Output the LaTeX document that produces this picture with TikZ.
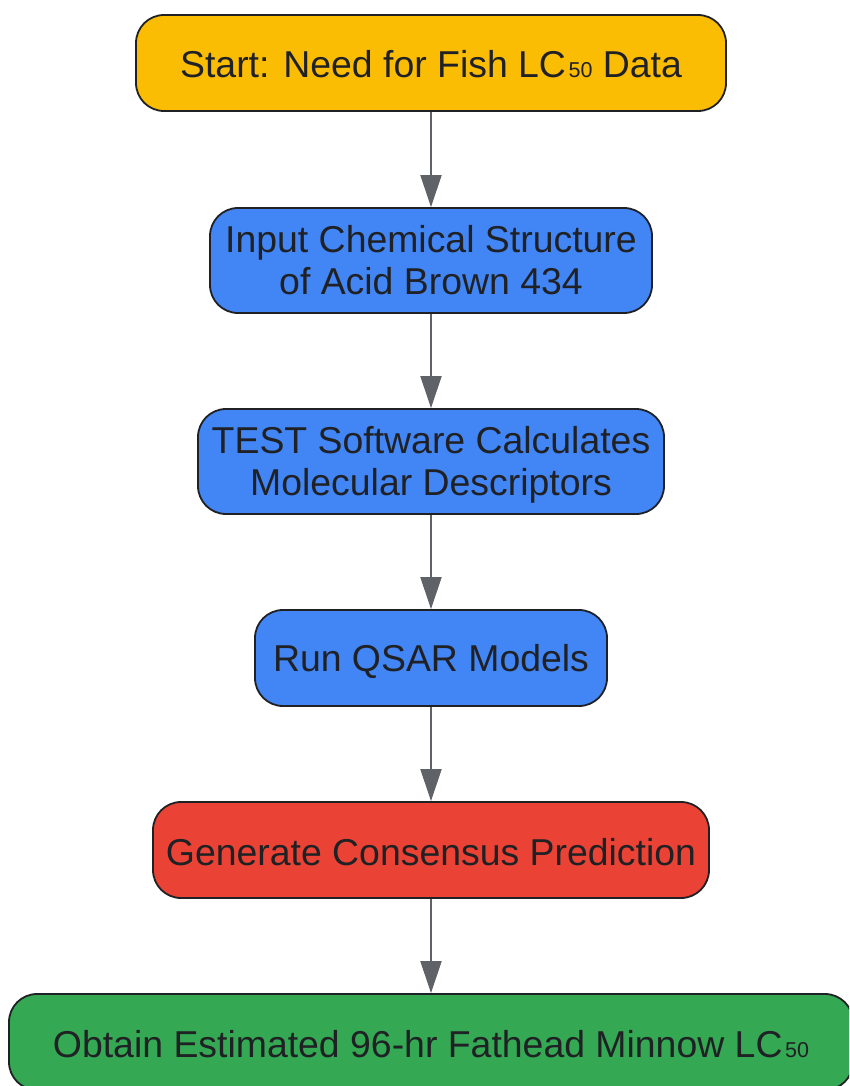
\documentclass[tikz,border=0pt]{standalone}
\usepackage{fontspec}
\setmainfont{Liberation Sans}
\usetikzlibrary{arrows.meta}
\definecolor{ylw}{HTML}{FBBC04}
\definecolor{blu}{HTML}{4285F4}
\definecolor{rd}{HTML}{EA4335}
\definecolor{grn}{HTML}{34A853}
\definecolor{edge}{HTML}{202124}
\definecolor{txt}{HTML}{202124}
\definecolor{arrowc}{HTML}{5F6368}
\newcommand{\subfifty}{\kern2.5pt{\fontsize{21.5}{21.5}\selectfont 50}}
\tikzset{
  box/.style={draw=edge, line width=1.8pt, rounded corners=28pt, inner sep=0pt},
  lbl/.style={align=center, text=txt, font=\fontsize{37.4}{42}\selectfont, inner sep=0pt}
}
\tikzset{
  arr/.style={-{Triangle[length=32pt,width=21pt]}, draw=arrowc, line width=2pt}
}
\begin{document}
\begin{tikzpicture}[x=1pt,y=1pt]
\clip (0,0) rectangle (849,-1086);
\node[box, fill=ylw, minimum width=590pt, minimum height=96pt,
  label={[lbl, yshift=-1.5pt]center:{Start: Need for Fish LC\subfifty{} Data}}] (start) at (431,-63) {};
\node[box, fill=blu, minimum width=442pt, minimum height=105pt,
  label={[lbl, yshift=0pt]center:{Input Chemical Structure\\of Acid Brown 434}}] (input) at (431,-260.5) {};
\node[box, fill=blu, minimum width=466pt, minimum height=105pt,
  label={[lbl, yshift=-3.5pt]center:{TEST Software Calculates\\Molecular Descriptors}}] (test) at (431,-461.5) {};
\node[box, fill=blu, minimum width=352pt, minimum height=96pt,
  label={[lbl, yshift=-3.5pt]center:{Run QSAR Models}}] (qsar) at (431,-658) {};
\node[box, fill=rd, minimum width=556pt, minimum height=96pt,
  label={[lbl, yshift=-2pt]center:{Generate Consensus Prediction}}] (cons) at (431,-850) {};
\node[box, fill=grn, minimum width=844pt, minimum height=96pt,
  label={[lbl, yshift=-2pt]center:{Obtain Estimated 96-hr Fathead Minnow LC\subfifty}}] (obtain) at (431,-1042) {};
\draw[arr] (start) -- (input);
\draw[arr] (input) -- (test);
\draw[arr] (test) -- (qsar);
\draw[arr] (qsar) -- (cons);
\draw[arr] (cons) -- (obtain);
\end{tikzpicture}
\end{document}
